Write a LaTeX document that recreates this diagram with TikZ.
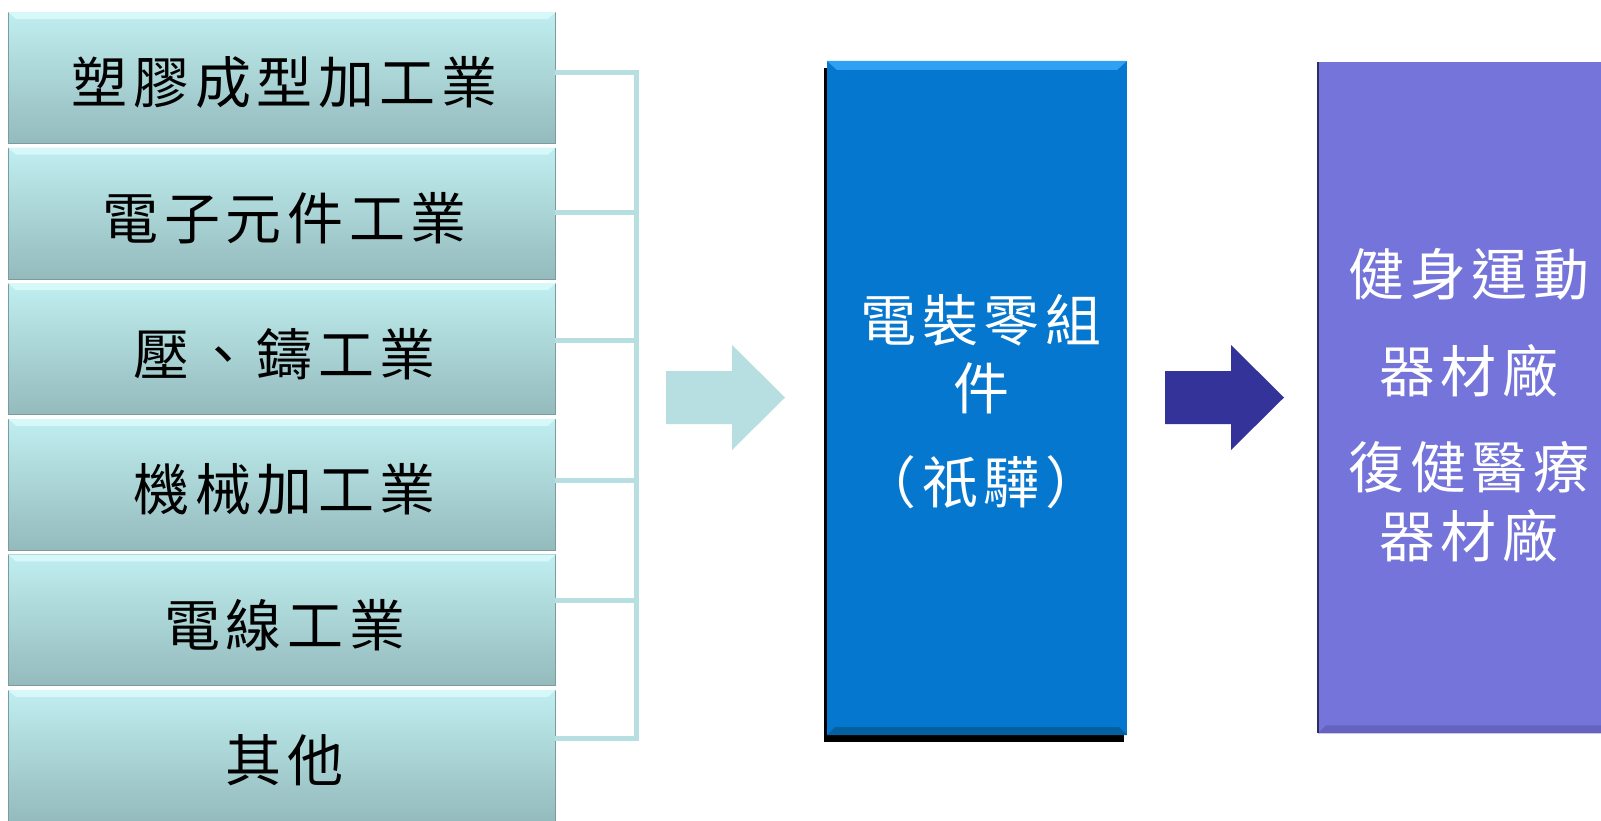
\documentclass[tikz,border=0pt]{standalone}
\usepackage{fontspec}
\newfontfamily\cjk[LetterSpace=10]{Noto Sans CJK TC}
\usetikzlibrary{positioning, shadows}

\definecolor{tealtop}{HTML}{C0EEF0}
\definecolor{tealbot}{HTML}{94BABC}
\definecolor{tealhi}{HTML}{D6F8F8}
\definecolor{tealedge}{HTML}{7A9C9E}
\definecolor{bracket}{HTML}{B7DEE1}
\definecolor{partblue}{HTML}{0577CF}
\definecolor{partedge}{HTML}{2FA0F2}
\definecolor{partdark}{HTML}{04609F}
\definecolor{navyarrow}{HTML}{333399}
\definecolor{plantpurple}{HTML}{7474DA}
\definecolor{plantdark}{HTML}{6464C0}
\definecolor{plantedge}{HTML}{2E2E5C}

\tikzset{
  indbox/.style={rectangle, minimum width=547pt, minimum height=131pt, inner sep=0pt,
    top color=tealtop, bottom color=tealbot, draw=tealedge, line width=0.8pt,
    text height=52pt, text depth=0pt, execute at end node={\kern-0.1em},
    font=\cjk\fontsize{56}{60}\selectfont},
  link/.style={draw=bracket, line width=5pt, line join=miter},
  partbox/.style={rectangle, minimum width=300pt, minimum height=674pt, inner sep=0pt,
    fill=partblue, drop shadow={shadow xshift=-3pt, shadow yshift=-7pt, fill=black, opacity=1}},
  plantbox/.style={rectangle, minimum width=300pt, minimum height=671pt, inner sep=0pt,
    fill=plantpurple},
  boxtext/.style={text=white, align=center, font=\cjk\fontsize{56}{68}\selectfont},
}

\begin{document}
\begin{tikzpicture}[x=1pt, y=-1pt]
    \clip (0,0) rectangle (1601,820);
    \fill[white] (0,0) rectangle (1601,820);

    % bracket behind the industry boxes
    \coordinate (j1) at (636,72);
    \coordinate (j2) at (636,212);
    \coordinate (j3) at (636,340);
    \coordinate (j4) at (636,480);
    \coordinate (j5) at (636,600);
    \coordinate (j6) at (636,738);

    % supplying industries
    \node[indbox, anchor=north west] (ind1) at (8,12) {塑膠成型加工業};
    \node[indbox, below=3.8pt of ind1] (ind2) {電子元件工業};
    \node[indbox, below=3.8pt of ind2] (ind3) {壓、鑄工業};
    \node[indbox, below=3.8pt of ind3] (ind4) {機械加工業};
    \node[indbox, below=3.8pt of ind4] (ind5) {電線工業};
    \node[indbox, below=3.8pt of ind5] (ind6) {其他};
    \foreach \i in {1,...,6} {
        \fill[tealhi] (ind\i.north west) -- (ind\i.north east) -- ([shift={(-8,7)}]ind\i.north east)
            -- ([shift={(8,7)}]ind\i.north west) -- cycle;
    }

    \draw[link] ([xshift=-1pt]ind1.east |- j1) -- (j1) -- (j6) -- ([xshift=-1pt]ind6.east |- j6);
    \foreach \i in {2,...,5}
        \draw[link] ([xshift=-1pt]ind\i.east |- j\i) -- (j\i);

    % block arrows
    \fill[bracket] (666,371) -- (732,371) -- (732,345) -- (785,397.5) -- (732,450) -- (732,424) -- (666,424) -- cycle;
    \fill[navyarrow] (1165,371) -- (1231,371) -- (1231,345) -- (1284,397.5) -- (1231,450) -- (1231,424) -- (1165,424) -- cycle;

    % parts
    \node[partbox] (part) at (977,398) {};
    \fill[partedge] (part.north west) -- (part.north east) -- ([shift={(-10,9)}]part.north east)
        -- ([shift={(10,9)}]part.north west) -- cycle;
    \fill[partdark] (part.south west) -- (part.south east) -- ([shift={(-8,-8)}]part.south east)
        -- ([shift={(8,-8)}]part.south west) -- cycle;
    \node[boxtext] (partlabel) at (981,402) {電裝零組\\件\\[26pt]（祇驊）};

    % equipment makers
    \node[plantbox, anchor=north west] (plant) at (1318,62) {};
    \fill[plantdark] (plant.south west) -- (plant.south east) -- ([shift={(0,-8)}]plant.south east)
        -- ([shift={(8,-8)}]plant.south west) -- cycle;
    \draw[plantedge, line width=1.5pt] (plant.north west) -- (plant.south west);
    \node[boxtext, font=\cjk\fontsize{56}{69}\selectfont] (plantlabel) at (1469,405)
        {健身運動\\[28pt]器材廠\\[27pt]復健醫療\\器材廠};
\end{tikzpicture}
\end{document}
